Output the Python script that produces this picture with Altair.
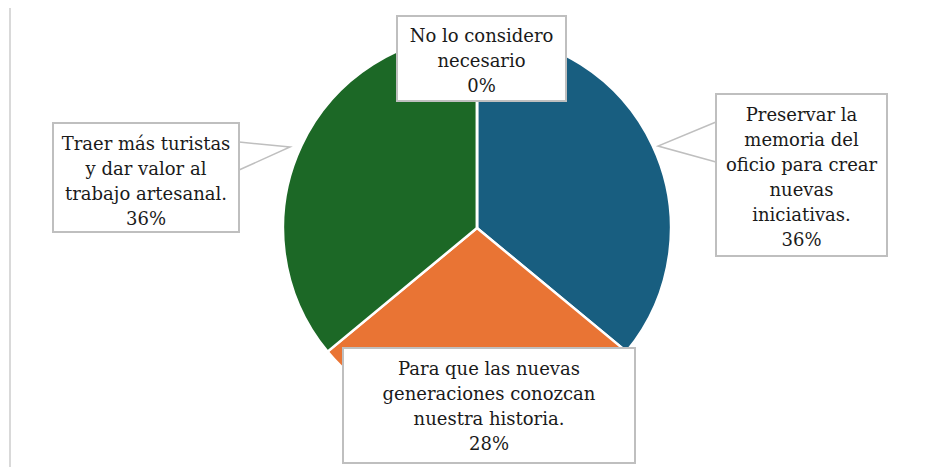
import altair as alt
import pandas as pd

# ---- data ----
categories = [
    "Preservar la memoria del oficio para crear nuevas iniciativas.",
    "Para que las nuevas generaciones conozcan nuestra historia.",
    "Traer más turistas y dar valor al trabajo artesanal.",
    "No lo considero necesario",
]
values = [36, 28, 36, 0]
label_lines = [
    ["Preservar la", "memoria del", "oficio para crear", "nuevas", "iniciativas."],
    ["Para que las nuevas", "generaciones conozcan", "nuestra historia."],
    ["Traer más turistas", "y dar valor al", "trabajo artesanal."],
    ["No lo considero", "necesario"],
]

# ---- style / layout ----
colors = ["#185e80", "#e97434", "#1c6826", "#7f7f7f"]
W, H = 920, 459
pie_cx, pie_cy, pie_r = 469, 220, 194
line_h = 25
# box: x0, x1, y0, y1, first baseline
boxes = [
    (708, 879, 86, 248, 113),
    (335, 627, 340, 455, 367),
    (45, 231, 115, 224, 142),
    (389, 558, 8, 93, 34),
]
leaders = [
    [(708, 114), (650, 138), (708, 154)],
    None,
    [(231, 134), (282, 139), (231, 162)],
    None,
]

pie_df = pd.DataFrame({"cat": categories, "value": values, "order": list(range(len(values)))})

box_rows, text_rows, lead_rows = [], [], []
for i, cat in enumerate(categories):
    x0, x1, y0, y1, yb = boxes[i]
    box_rows.append({"x0": x0, "x1": x1, "y0": y0, "y1": y1})
    lines = label_lines[i] + [f"{values[i]}%"]
    for j, ln in enumerate(lines):
        text_rows.append({"x": (x0 + x1) / 2, "y": yb + j * line_h, "t": ln})
    if leaders[i]:
        for k, (px, py) in enumerate(leaders[i]):
            lead_rows.append({"g": i, "k": k, "x": px, "y": py})

box_df = pd.DataFrame(box_rows)
text_df = pd.DataFrame(text_rows)
lead_df = pd.DataFrame(lead_rows)

frame = alt.Chart(pd.DataFrame({"a": [0]})).mark_rule(color="#d9d9d9", strokeWidth=2).encode(
    x=alt.value(2), y=alt.value(-3), y2=alt.value(H)
)

pie = alt.Chart(pie_df).mark_arc(radius=pie_r, stroke="white", strokeWidth=2.5).encode(
    theta=alt.Theta("value:Q", stack=True),
    color=alt.Color("cat:N", scale=alt.Scale(domain=categories, range=colors), legend=None),
    order=alt.Order("order:Q"),
    x=alt.value(pie_cx),
    y=alt.value(pie_cy),
)

lead = alt.Chart(lead_df).mark_line(color="#bfbfbf", strokeWidth=1.5).encode(
    x=alt.X("x:Q", scale=None, axis=None),
    y=alt.Y("y:Q", scale=None, axis=None),
    detail="g:N",
    order="k:Q",
)

box = alt.Chart(box_df).mark_rect(fill="white", stroke="#bfbfbf", strokeWidth=2).encode(
    x=alt.X("x0:Q", scale=None, axis=None),
    x2="x1:Q",
    y=alt.Y("y0:Q", scale=None, axis=None),
    y2="y1:Q",
)

txt = alt.Chart(text_df).mark_text(
    align="center", baseline="alphabetic", color="#1a1a1a"
).encode(
    x=alt.X("x:Q", scale=None, axis=None),
    y=alt.Y("y:Q", scale=None, axis=None),
    text="t:N",
)

chart = alt.layer(frame, pie, lead, box, txt).properties(
    width=W, height=H, autosize=alt.AutoSizeParams(type="none"), padding=0
).configure_view(stroke=None).configure_text(font="DejaVu Serif", fontSize=18)

chart.save("out.html", embed_options={"renderer": "svg", "actions": False})
